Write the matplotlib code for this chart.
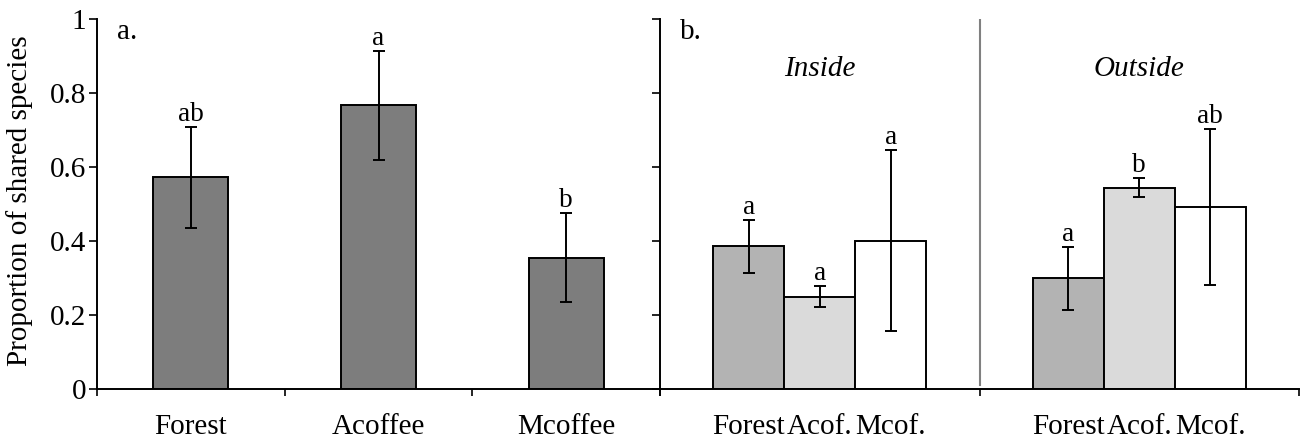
import numpy as np
import matplotlib.pyplot as plt

plt.rcParams['font.family'] = ['Liberation Serif', 'DejaVu Serif']

# panel a: all sites pooled
habitats = ['Forest', 'Acoffee', 'Mcoffee']
shared = [0.572, 0.767, 0.355]
shared_err = [0.137, 0.147, 0.120]
letters_a = ['ab', 'a', 'b']

# panel b: inside / outside the reserve
groups = ['Inside', 'Outside']
sub_labels = ['Forest', 'Acof.', 'Mcof.']
inside = [0.386, 0.250, 0.401]
inside_err = [0.072, 0.028, 0.244]
outside = [0.299, 0.544, 0.492]
outside_err = [0.085, 0.026, 0.212]
letters_in = ['a', 'a', 'a']
letters_out = ['a', 'b', 'ab']

fs = 21
fig = plt.figure(figsize=(13.03, 4.38), dpi=100)
ax1 = fig.add_axes([97/1303, 1 - 389/438, 563/1303, 370/438])
ax2 = fig.add_axes([660/1303, 1 - 389/438, 639/1303, 370/438])

err_kw = dict(ecolor='black', elinewidth=1.4, capsize=4.2, capthick=1.4)

# ---- panel a ----
xa = np.arange(3) + 0.5
ax1.bar(xa, shared, width=0.4, color='#7d7d7d', edgecolor='black', linewidth=1.4,
        yerr=shared_err, error_kw=err_kw, zorder=2)
for x, v, e, s in zip(xa, shared, shared_err, letters_a):
    ax1.annotate(s, (x, v + e), xytext=(0, 6), textcoords='offset pixels',
                 ha='center', va='baseline', fontsize=19.5)
ax1.set_xlim(0, 3)
ax1.set_ylim(0, 1)
ax1.set_yticks([0, 0.2, 0.4, 0.6, 0.8, 1])
ax1.set_yticklabels(['0', '0.2', '0.4', '0.6', '0.8', '1'])
ax1.set_xticks([0, 1, 2, 3])
ax1.set_xticklabels([])
ax1.set_xticks(xa, minor=True)
ax1.set_xticklabels(habitats, minor=True)
ax1.set_ylabel('Proportion of shared species', fontsize=fs)
ax1.yaxis.set_label_coords(-0.113, 0.51)
ax1.text(0.035, 0.946, 'a.', transform=ax1.transAxes, fontsize=fs)

# ---- panel b ----
w = 0.222
fills = ['#b3b3b3', '#dadada', 'white']
for g, (vals, errs, lets) in enumerate([(inside, inside_err, letters_in),
                                         (outside, outside_err, letters_out)]):
    xs = g + 0.5 + np.array([-w, 0, w])
    ax2.bar(xs, vals, width=w, color=fills, edgecolor='black', linewidth=1.4,
            yerr=errs, error_kw=err_kw, zorder=2)
    for x, v, e, s in zip(xs, vals, errs, lets):
        ax2.annotate(s, (x, v + e), xytext=(0, 6), textcoords='offset pixels',
                     ha='center', va='baseline', fontsize=19.5)
    ax2.text(g + 0.5, 0.846, groups[g], ha='center', va='baseline',
             fontsize=fs, style='italic')
ax2.axvline(1.0, ymin=0.01, ymax=1.0, color='#808080', linewidth=1.5)
ax2.set_xlim(0, 2)
ax2.set_ylim(0, 1)
ax2.set_yticks([0, 0.2, 0.4, 0.6, 0.8, 1])
ax2.set_yticklabels([])
ax2.set_xticks([0, 1, 2])
ax2.set_xticklabels([])
bar_pos = np.concatenate([g + 0.5 + np.array([-w, 0, w]) for g in range(2)])
ax2.set_xticks(bar_pos, minor=True)
ax2.set_xticklabels(sub_labels * 2, minor=True)
ax2.text(0.031, 0.946, 'b.', transform=ax2.transAxes, fontsize=fs)

for ax in (ax1, ax2):
    ax.spines['top'].set_visible(False)
    ax.spines['right'].set_visible(False)
    ax.spines['left'].set_linewidth(1.4)
    ax.spines['bottom'].set_linewidth(1.4)
    ax.tick_params(axis='y', which='major', length=6, width=1.2, labelsize=fs, pad=2)
    ax.tick_params(axis='x', which='major', length=5, width=1.2)
    ax.tick_params(axis='x', which='minor', length=0, labelsize=fs, pad=18)

fig.savefig('out.png', dpi=100)
